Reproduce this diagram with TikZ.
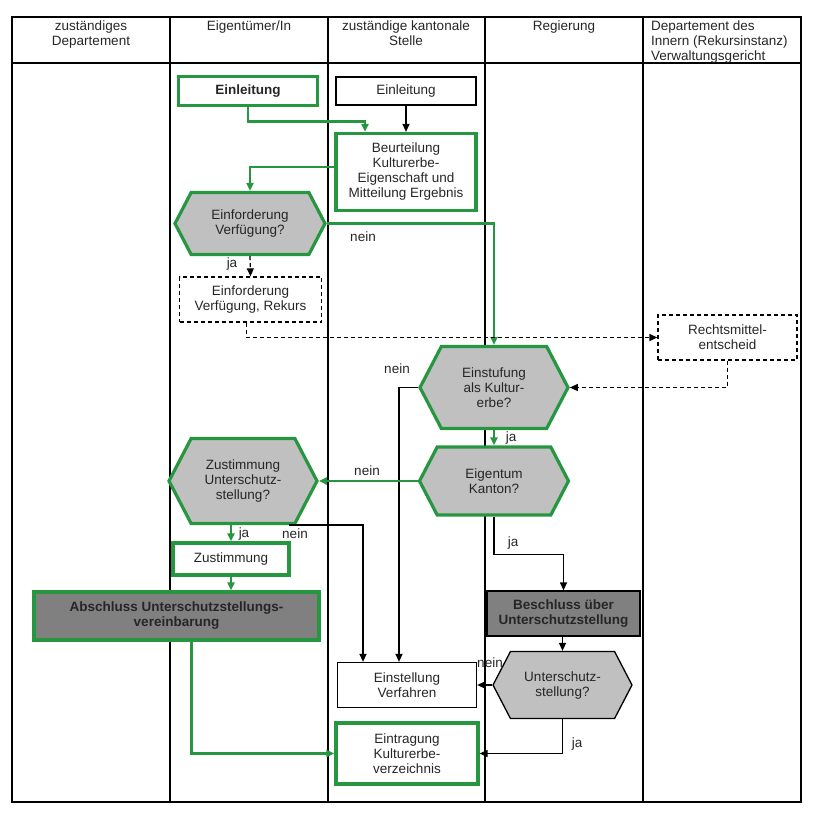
\documentclass[tikz,border=0pt]{standalone}
\usepackage{fontspec}
\setmainfont{Liberation Sans}
\usetikzlibrary{arrows.meta,shapes.symbols}
\definecolor{kgreen}{RGB}{38,150,64}
\definecolor{hexgray}{RGB}{192,192,192}
\definecolor{boxgray}{RGB}{128,128,128}
\begin{document}
\begin{tikzpicture}[x=1pt,y=-1pt,
        font=\fontsize{13.5}{15}\selectfont, text=black!85,
        >={Triangle[length=8pt,width=7pt]},
        boldtext/.style={font=\fontsize{13.5}{15}\selectfont\bfseries},
        box/.style={draw=black, line width=1.3pt, align=center, inner sep=2pt},
        greenbox/.style={draw=kgreen, line width=3.2pt, align=center, inner sep=2pt},
        dashbox/.style={draw=black, dash pattern=on 4pt off 3pt, line width=1.3pt, align=center},
        hexa/.style={signal, signal to=west and east, signal pointer angle=125,
            fill=hexgray, align=center, inner sep=1pt},
        ghex/.style={hexa, draw=kgreen, line width=3.2pt},
        gline/.style={->, draw=kgreen, line width=2.6pt},
        bline/.style={->, line width=1.3pt},
        dline/.style={->, dash pattern=on 4pt off 3pt, line width=1.3pt},
        lbl/.style={inner sep=1pt}]
    \useasboundingbox (0,0) rectangle (818,815);

    % Lanes
    \draw[line width=1.6pt] (12,17) rectangle (801,802);
    \draw[line width=1.3pt] (12,63) -- (801,63);
    \foreach \x in {170,328,485,643}
        \draw[line width=1.3pt] (\x,17) -- (\x,802);
    \foreach \x/\t [count=\i] in {91/{zuständiges\\Departement}, 249/{Eigentümer/In},
            406/{zuständige kantonale\\Stelle}, 564/{Regierung}}
        \node[align=center, anchor=north, inner sep=2pt] (h\i) at (\x,19) {\t};
    \node[align=left, anchor=north west, inner sep=2pt] (h5) at (649,19)
        {Departement des\\Innern (Rekursinstanz)\\Verwaltungsgericht};

    % Steps
    \node[greenbox, boldtext, minimum width=139pt, minimum height=29pt] (einE) at (248,91) {Einleitung};
    \node[box, minimum width=140pt, minimum height=28pt] (einK) at (406,91) {Einleitung};
    \node[greenbox, minimum width=140pt, minimum height=77pt] (beurt) at (406,172)
        {Beurteilung\\Kulturerbe-\\Eigenschaft und\\Mitteilung Ergebnis};
    \node[ghex, minimum width=150pt, minimum height=62pt] (fordV) at (250,223.5) {Einforderung\\Verfügung?};
    \node[dashbox, minimum width=142pt, minimum height=45pt] (rekurs) at (250.5,299.5)
        {Einforderung\\Verfügung, Rekurs};
    \node[dashbox, minimum width=139pt, minimum height=45pt] (rmittel) at (727.5,337.5)
        {Rechtsmittel-\\entscheid};
    \node[ghex, minimum width=148pt, minimum height=82pt] (einst) at (494,387.5)
        {Einstufung\\als Kultur-\\erbe?};
    \node[ghex, minimum width=149pt, minimum height=68pt] (eigent) at (494,481) {Eigentum\\Kanton?};
    \node[ghex, minimum width=148pt, minimum height=85pt] (zust) at (243,481)
        {Zustimmung\\Unterschutz-\\stellung?};
    \node[greenbox, minimum width=116pt, minimum height=32pt] (zustbox) at (231,559) {Zustimmung};
    \node[greenbox, boldtext, fill=boxgray, minimum width=285pt, minimum height=48pt] (abschl) at (176.5,616)
        {Abschluss Unterschutzstellungs-\\vereinbarung};
    \node[box, boldtext, fill=boxgray, minimum width=153pt, minimum height=45pt] (beschl) at (563.5,613.5)
        {Beschluss über\\Unterschutzstellung};
    \node[box, minimum width=139pt, minimum height=45pt] (einstell) at (407,685) {Einstellung\\Verfahren};
    \node[hexa, draw=black, line width=1.3pt, minimum width=139pt, minimum height=67pt] (uschutz) at (562.5,685)
        {Unterschutz-\\stellung?};
    \node[greenbox, minimum width=142pt, minimum height=61pt] (eintrag) at (407,753.5)
        {Eintragung\\Kulturerbe-\\verzeichnis};

    % Connectors
    \draw[gline] (einE.south) -- ++(0,14.5) -| ([xshift=-41pt]beurt.north);
    \draw[bline] (einK.south) -- (beurt.north);
    \draw[gline] ([yshift=5pt]beurt.west) -| (fordV.north);
    \draw[gline] (fordV.east) -| (einst.north);
    \draw[dline] (fordV.south) -- (rekurs.north);
    \draw[dline] ([xshift=-4pt]rekurs.south) |- (rmittel.west);
    \draw[dline] (rmittel.south) |- (einst.east);
    \draw[bline] (einst.west) -| ([xshift=-8pt]einstell.north);
    \draw[gline] (einst.south) -- (eigent.north);
    \draw[gline] (eigent.west) -- (zust.east);
    \draw[bline] (eigent.south) -- ++(0,38) -| (beschl.north);
    \draw[gline] (zustbox.north |- zust.south) -- (zustbox.north);
    \draw[bline] ([xshift=46pt]zust.south) -| ([xshift=-44pt]einstell.north);
    \draw[gline] (zustbox.south) -- (zustbox.south |- abschl.north);
    \draw[gline] ([xshift=15pt]abschl.south) |- (eintrag.west);
    \draw[bline] (uschutz.north |- beschl.south) -- (uschutz.north);
    \draw[bline] (uschutz.west) -- (einstell.east);
    \draw[bline] (uschutz.south) |- (eintrag.east);

    % Labels
    \node[lbl] (n1) at (363,237) {nein};
    \node[lbl] (j1) at (232,264) {ja};
    \node[lbl] (n2) at (397,369) {nein};
    \node[lbl] (j2) at (511,438) {ja};
    \node[lbl] (n3) at (367,471) {nein};
    \node[lbl] (j3) at (513,543) {ja};
    \node[lbl] (j4) at (244,534) {ja};
    \node[lbl] (n4) at (295,534) {nein};
    \node[lbl] (n5) at (490,663) {nein};
    \node[lbl] (j5) at (577,744) {ja};
\end{tikzpicture}
\end{document}
